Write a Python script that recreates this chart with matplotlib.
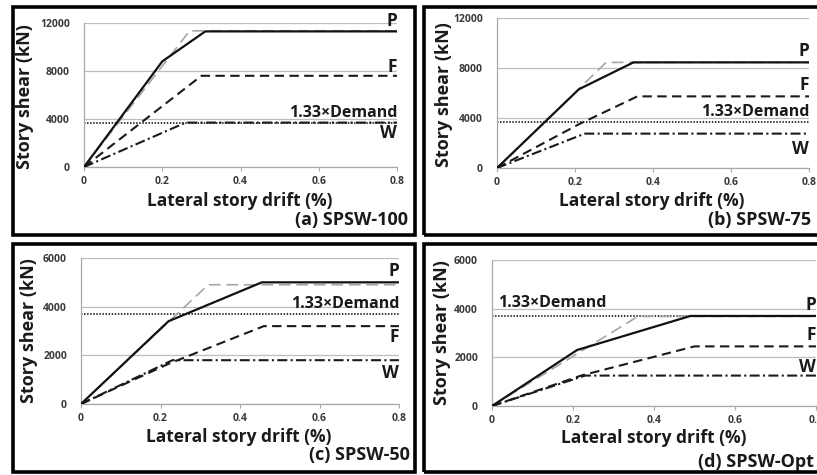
import matplotlib
matplotlib.use("Agg")
import matplotlib.pyplot as plt
from matplotlib.patches import Rectangle

W_PX, H_PX = 817, 475

# ---------------- data ----------------
demand = 3700

a_P_x = [0, 0.20, 0.31, 0.8];  a_P_y = [0, 8800, 11300, 11300]
a_G_x = [0, 0.27, 0.8];        a_G_y = [0, 11350, 11350]
a_F_x = [0, 0.30, 0.8];        a_F_y = [0, 7600, 7600]
a_W_x = [0, 0.26, 0.8];        a_W_y = [0, 3700, 3700]

b_P_x = [0, 0.21, 0.35, 0.8];  b_P_y = [0, 6300, 8450, 8450]
b_G_x = [0, 0.28, 0.8];        b_G_y = [0, 8450, 8450]
b_F_x = [0, 0.21, 0.36, 0.8];  b_F_y = [0, 3500, 5730, 5730]
b_W_x = [0, 0.225, 0.8];       b_W_y = [0, 2750, 2750]

c_P_x = [0, 0.22, 0.455, 0.8]; c_P_y = [0, 3400, 5000, 5000]
c_G_x = [0, 0.32, 0.8];        c_G_y = [0, 4900, 4900]
c_F_x = [0, 0.22, 0.46, 0.8];  c_F_y = [0, 1650, 3200, 3200]
c_W_x = [0, 0.23, 0.8];        c_W_y = [0, 1800, 1800]

d_P_x = [0, 0.21, 0.49, 0.8];  d_P_y = [0, 2300, 3700, 3700]
d_G_x = [0, 0.36, 0.8];        d_G_y = [0, 3680, 3680]
d_F_x = [0, 0.22, 0.50, 0.8];  d_F_y = [0, 1250, 2450, 2450]
d_W_x = [0, 0.23, 0.8];        d_W_y = [0, 1250, 1250]

x_ticks = [0, 0.2, 0.4, 0.6, 0.8]
x_ticklabels = ["0", "0.2", "0.4", "0.6", "0.8"]
y_ticks_top = [0, 4000, 8000, 12000]
y_ticks_bot = [0, 2000, 4000, 6000]
captions = ["(a) SPSW-100", "(b) SPSW-75", "(c) SPSW-50", "(d) SPSW-Opt"]
xlabel = "Lateral story drift (%)"
ylabel = "Story shear (kN)"
demand_label = "1.33\u00d7Demand"

# ---------------- style ----------------
plt.rcParams['font.family'] = ['Open Sans', 'DejaVu Sans']
fig = plt.figure(figsize=(W_PX / 100, H_PX / 100), dpi=100)


def fx(x):
    return x / W_PX


def fy(y):
    return 1 - y / H_PX


def make_axes(x0, x1, ytop, ybot):
    return fig.add_axes([fx(x0), fy(ybot), fx(x1 - x0), (ybot - ytop) / H_PX])


# panel borders (pixel coords, top-origin)
borders = [(13, 7, 415, 235), (424, 7, 830, 235), (13, 244, 415, 472), (424, 244, 830, 472)]
for (x0, y0, x1, y1) in borders:
    fig.patches.append(Rectangle((fx(x0), fy(y1)), fx(x1 - x0), (y1 - y0) / H_PX,
                                 transform=fig.transFigure, fill=False,
                                 edgecolor='black', linewidth=2.6, zorder=10))

axes_px = [(84, 397, 23, 167), (497, 809, 18, 168), (81, 399, 258, 404), (492, 816, 260, 406)]

series = [
    (a_P_x, a_P_y, a_G_x, a_G_y, a_F_x, a_F_y, a_W_x, a_W_y, 12000, y_ticks_top),
    (b_P_x, b_P_y, b_G_x, b_G_y, b_F_x, b_F_y, b_W_x, b_W_y, 12000, y_ticks_top),
    (c_P_x, c_P_y, c_G_x, c_G_y, c_F_x, c_F_y, c_W_x, c_W_y, 6000, y_ticks_bot),
    (d_P_x, d_P_y, d_G_x, d_G_y, d_F_x, d_F_y, d_W_x, d_W_y, 6000, y_ticks_bot),
]

# label positions (data coords): (x, y, ha)
label_pos = [
    {"P": (0.8, 12150, 'right'), "F": (0.8, 8330, 'right'), "D": (0.8, 4500, 'right'), "W": (0.8, 2830, 'right')},
    {"P": (0.8, 9360, 'right'), "F": (0.8, 6640, 'right'), "D": (0.8, 4480, 'right'), "W": (0.8, 1520, 'right')},
    {"P": (0.8, 5470, 'right'), "F": (0.8, 2750, 'right'), "D": (0.8, 4110, 'right'), "W": (0.8, 1270, 'right')},
    {"P": (0.8, 4150, 'right'), "F": (0.8, 2920, 'right'), "D": (0.015, 4230, 'left'), "W": (0.8, 1600, 'right')},
]

caption_px = [(408, 220, 'right'), (708, 220, 'left'), (410, 455, 'right'), (698, 462, 'left')]
xlabel_px = [(240, 201), (652, 201), (239, 437), (654, 438)]
ylabel_px = [(25, 97), (444, 95), (29, 331), (442, 333)]

grid_c = '#bdbdbd'
tick_c = '#3a3a3a'

for i, (px, s) in enumerate(zip(axes_px, series)):
    Px, Py, Gx, Gy, Fx, Fy, Wx, Wy, ymax, yt = s
    ax = make_axes(*px)
    ax.set_xlim(0, 0.8)
    ax.set_ylim(0, ymax)
    ax.set_facecolor('none')
    for sp in ['top', 'right']:
        ax.spines[sp].set_visible(False)
    for sp in ['left', 'bottom']:
        ax.spines[sp].set_color('#a8a8a8')
        ax.spines[sp].set_linewidth(0.9)
    ax.set_xticks(x_ticks)
    ax.set_xticklabels(x_ticklabels)
    ax.set_yticks(yt)
    ax.set_yticklabels([str(v) for v in yt])
    ax.tick_params(axis='x', length=3, width=0.8, color='#a8a8a8', pad=3.5,
                   labelsize=7.5, labelcolor=tick_c)
    ax.tick_params(axis='y', length=0, pad=10, labelsize=7.5, labelcolor=tick_c)
    for lab in ax.get_xticklabels() + ax.get_yticklabels():
        lab.set_fontweight('bold')
    ax.grid(axis='y', color=grid_c, linewidth=0.9)
    ax.set_axisbelow(True)

    ax.plot([0, 0.8], [demand, demand], color='#222222', linewidth=1.3,
            linestyle=(0, (0.8, 0.9)), zorder=2)
    ax.plot(Gx, Gy, color='#a6a6a6', linewidth=1.2, dashes=(7, 3.5), zorder=2)
    ax.plot(Wx, Wy, color='#1a1a1a', linewidth=1.5, dashes=(4.8, 1.6, 1.0, 1.6), zorder=3)
    ax.plot(Fx, Fy, color='#1a1a1a', linewidth=1.5, dashes=(4.5, 2.6), zorder=3)
    ax.plot(Px, Py, color='#111111', linewidth=1.6, zorder=4, solid_joinstyle='miter')

    lp = label_pos[i]
    for key, txt, fs in [("P", "P", 12.5), ("F", "F", 12.5), ("W", "W", 12.5), ("D", demand_label, 11.5)]:
        x, y, ha = lp[key]
        ax.text(x, y, txt, ha=ha, va='center', fontsize=fs, fontweight='bold',
                color='#1a1a1a', zorder=6, clip_on=False)

    cx, cy, cha = caption_px[i]
    fig.text(fx(cx), fy(cy), captions[i], ha=cha, va='center', fontsize=13,
             fontweight='bold', color='#1a1a1a')
    lx, ly = xlabel_px[i]
    fig.text(fx(lx), fy(ly), xlabel, ha='center', va='center', fontsize=12.5,
             fontweight='bold', color='#1a1a1a')
    yx, yy = ylabel_px[i]
    fig.text(fx(yx), fy(yy), ylabel, ha='center', va='center', fontsize=13,
             fontweight='bold', color='#1a1a1a', rotation=90)

fig.savefig("out.png", dpi=100)
